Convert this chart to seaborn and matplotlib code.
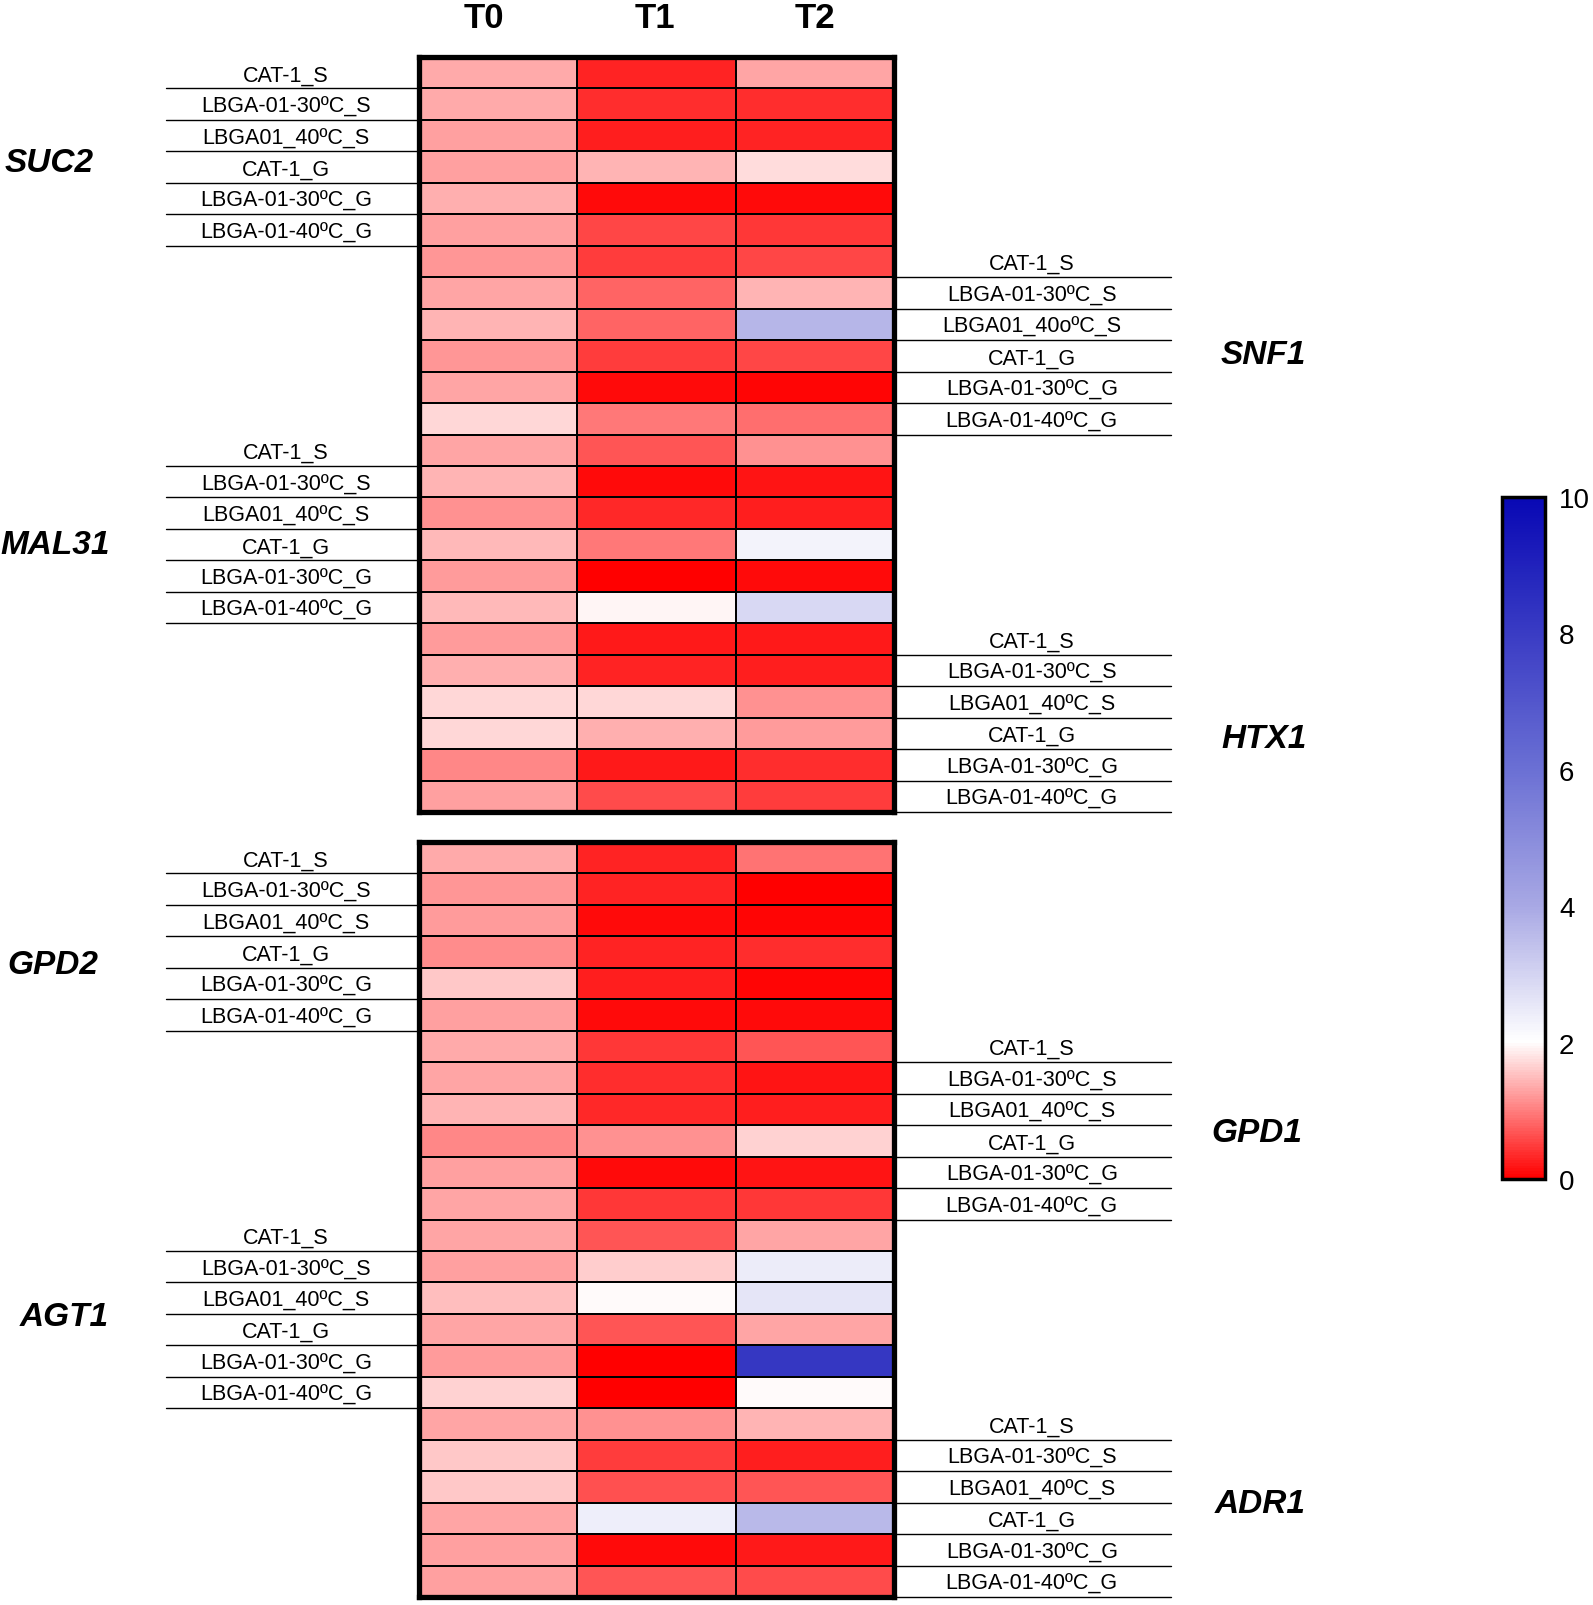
import numpy as np
import pandas as pd
import matplotlib
matplotlib.use("Agg")
import matplotlib.pyplot as plt
import seaborn as sns
from matplotlib.colors import LinearSegmentedColormap

W, H = 1593, 1606

times = ["T0", "T1", "T2"]
strains = ["CAT-1_S", "LBGA-01-30ºC_S", "LBGA01_40ºC_S",
           "CAT-1_G", "LBGA-01-30ºC_G", "LBGA-01-40ºC_G"]
strains_snf1 = ["CAT-1_S", "LBGA-01-30ºC_S", "LBGA01_40oºC_S",
                "CAT-1_G", "LBGA-01-30ºC_G", "LBGA-01-40ºC_G"]

top_genes = ["SUC2", "SNF1", "MAL31", "HTX1"]
bottom_genes = ["GPD2", "GPD1", "AGT1", "ADR1"]

# relative expression, rows = strains, cols = T0, T1, T2
suc2 = [[1.34, 0.31, 1.29], [1.33, 0.38, 0.36], [1.28, 0.24, 0.31],
        [1.25, 1.44, 1.74], [1.38, 0.08, 0.08], [1.25, 0.56, 0.44]]
snf1 = [[1.21, 0.47, 0.56], [1.32, 0.82, 1.44], [1.44, 0.82, 3.70],
        [1.21, 0.47, 0.56], [1.32, 0.08, 0.04], [1.71, 0.94, 0.88]]
mal31 = [[1.29, 0.67, 1.17], [1.42, 0.08, 0.16], [1.15, 0.33, 0.25],
         [1.48, 0.94, 2.30], [1.24, 0.00, 0.08], [1.47, 1.95, 2.90]]
htx1 = [[1.24, 0.20, 0.20], [1.38, 0.30, 0.27], [1.68, 1.68, 1.16],
        [1.68, 1.38, 1.22], [1.08, 0.22, 0.38], [1.25, 0.60, 0.50]]
gpd2 = [[1.35, 0.31, 0.91], [1.19, 0.31, 0.00], [1.22, 0.08, 0.04],
        [1.13, 0.28, 0.38], [1.57, 0.25, 0.06], [1.27, 0.08, 0.08]]
gpd1 = [[1.36, 0.44, 0.69], [1.29, 0.38, 0.16], [1.41, 0.35, 0.25],
        [1.08, 1.16, 1.65], [1.27, 0.08, 0.19], [1.29, 0.45, 0.44]]
agt1 = [[1.30, 0.69, 1.32], [1.25, 1.62, 2.45], [1.51, 1.98, 2.60],
        [1.29, 0.69, 1.29], [1.22, 0.00, 8.20], [1.66, 0.00, 1.96]]
adr1 = [[1.30, 1.16, 1.41], [1.58, 0.47, 0.25], [1.58, 0.63, 0.69],
        [1.29, 2.40, 3.60], [1.25, 0.08, 0.22], [1.25, 0.69, 0.60]]

cbar_ticks = [0, 2, 4, 6, 8, 10]

cmap = LinearSegmentedColormap.from_list(
    "rwb", [(0.0, "#FF0000"), (0.2, "#FFFFFF"), (0.4, "#A8A8E4"),
            (0.6, "#6B70D4"), (0.8, "#3A3CC4"), (1.0, "#0808B4")])

sns.set_theme(style="white")
plt.rcParams["font.family"] = ["Liberation Sans", "DejaVu Sans"]
plt.rcParams["text.color"] = "black"
plt.rcParams["ytick.color"] = "black"
plt.rcParams["ytick.labelcolor"] = "black"


def frac(x0, y0, x1, y1):
    return [x0 / W, 1 - y1 / H, (x1 - x0) / W, (y1 - y0) / H]


fig = plt.figure(figsize=(W / 100, H / 100), dpi=100)
fig.patch.set_facecolor("white")

ax_top = fig.add_axes(frac(419, 58, 894, 813))
ax_bot = fig.add_axes(frac(419, 843, 894, 1598))
cax = fig.add_axes(frac(1502, 498, 1545, 1180))

blocks = [
    (ax_top, top_genes, [suc2, snf1, mal31, htx1], [strains, strains_snf1, strains, strains]),
    (ax_bot, bottom_genes, [gpd2, gpd1, agt1, adr1], [strains, strains, strains, strains]),
]

# gene name anchors (left x px, centre y px)
gene_pos = {
    "SUC2": (5, 164), "MAL31": (0, 545), "GPD2": (7, 966), "AGT1": (20, 1318),
    "SNF1": (1221, 356), "HTX1": (1221, 740), "GPD1": (1211, 1133), "ADR1": (1215, 1505),
}
header_x = [484, 655, 815]

for i, (ax, genes, vals, labs) in enumerate(blocks):
    df = pd.DataFrame(np.vstack(vals), columns=times)
    sns.heatmap(df, ax=ax, cmap=cmap, vmin=0, vmax=10,
                linewidths=1.2, linecolor="black",
                cbar=(i == 0), cbar_ax=cax if i == 0 else None,
                xticklabels=False, yticklabels=False)
    for s in ax.spines.values():
        s.set_visible(True)
        s.set_linewidth(3.8)
        s.set_color("black")
    ax.set_xlabel("")
    ax.set_ylabel("")

    for g, (gene, names) in enumerate(zip(genes, labs)):
        left = g % 2 == 0
        for r, name in enumerate(names):
            row = g * 6 + r
            if left:
                ax.plot([-1.6, 0], [row + 1, row + 1], color="black", lw=1.0, clip_on=False)
                ax.text(-0.84, row + 0.9, name, ha="center", va="bottom", fontsize=15.5,
                        color="black", clip_on=False)
            else:
                ax.plot([3, 4.75], [row + 1, row + 1], color="black", lw=1.0, clip_on=False)
                ax.text(3.87, row + 0.9, name, ha="center", va="bottom", fontsize=15.5,
                        color="black", clip_on=False)
        gx, gy = gene_pos[gene]
        fig.text(gx / W, 1 - gy / H, gene, ha="left", va="center", fontsize=24,
                 fontweight="bold", fontstyle="italic", color="black")

# column headers
for t, hx in zip(times, header_x):
    fig.text(hx / W, 1 - 18 / H, t, ha="center", va="center", fontsize=25, fontweight="bold",
             color="black", family=["Liberation Sans Narrow", "Liberation Sans"])

cbar = ax_top.collections[0].colorbar
cbar.set_ticks(cbar_ticks)
cbar.outline.set_linewidth(2.5)
cbar.outline.set_edgecolor("black")
cax.yaxis.set_ticks_position("both")
cax.tick_params(direction="in", length=7, width=2, labelsize=20, pad=10,
                left=True, right=True, labelleft=False, labelright=True,
                colors="black", labelcolor="black")

fig.savefig("out.png", dpi=100, facecolor="white")
